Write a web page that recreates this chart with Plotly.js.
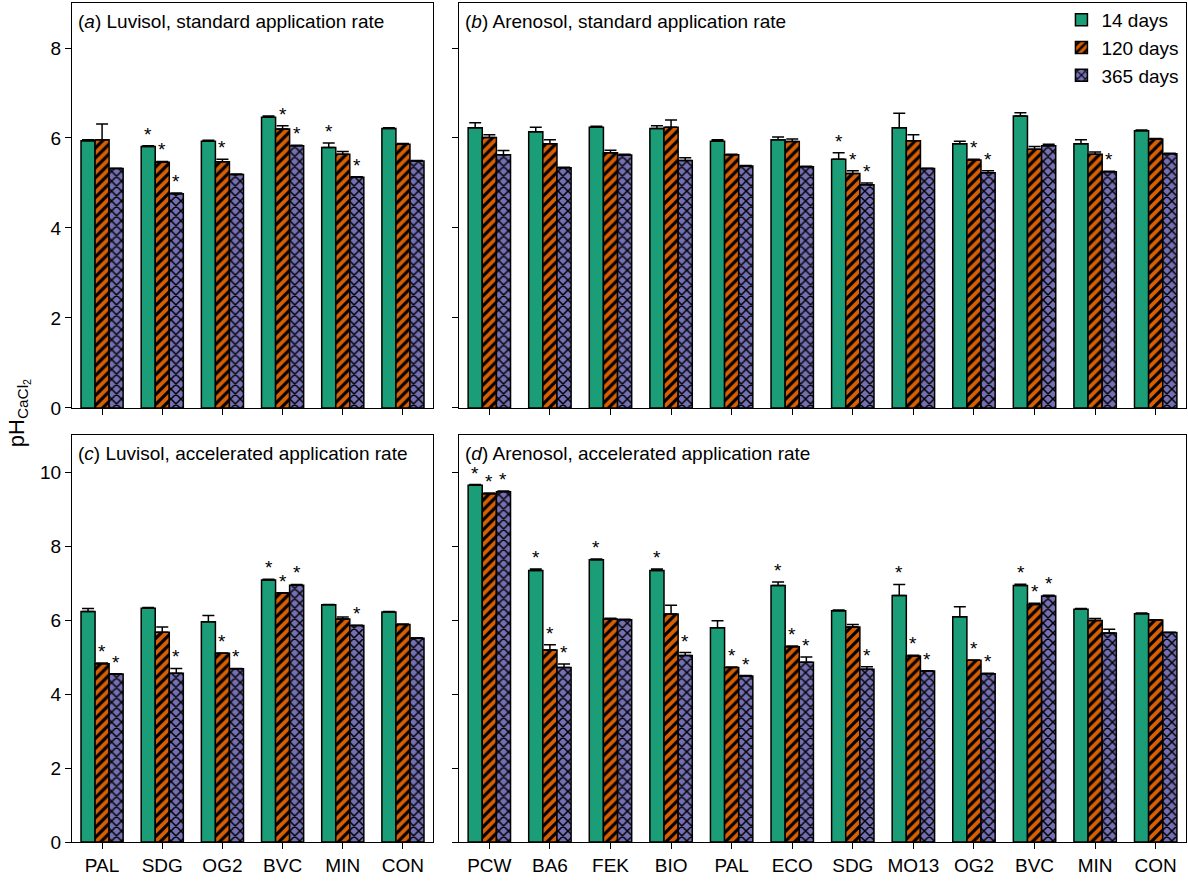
<!DOCTYPE html>
<html>
<head>
<meta charset="utf-8">
<script src="https://cdn.plot.ly/plotly-3.0.1.min.js"></script>
<style>
  body { margin: 0; background: #fff; }
  #plot { width: 1188px; height: 884px; }
</style>
</head>
<body>
<div id="plot"></div>
<script>
// Sites
const luvisolSites = ['PAL', 'SDG', 'OG2', 'BVC', 'MIN', 'CON'];
const arenosolSites = ['PCW', 'BA6', 'FEK', 'BIO', 'PAL', 'ECO', 'SDG', 'MO13', 'OG2', 'BVC', 'MIN', 'CON'];

const seriesNames = ['14 days', '120 days', '365 days'];

// (a) Luvisol, standard rate
const aMean14 = [5.94, 5.81, 5.93, 6.46, 5.79, 6.21];
const aMean120 = [5.96, 5.46, 5.47, 6.20, 5.64, 5.86];
const aMean365 = [5.32, 4.76, 5.19, 5.83, 5.13, 5.49];
const aErr14 = [0.02, 0.02, 0.02, 0.03, 0.10, 0.02];
const aErr120 = [0.35, 0.02, 0.06, 0.07, 0.06, 0.02];
const aErr365 = [0.01, 0.02, 0.01, 0.01, 0.01, 0.01];
const aSig14 = [0, 1, 0, 0, 1, 0];
const aSig120 = [0, 1, 1, 1, 0, 0];
const aSig365 = [0, 1, 0, 1, 1, 0];

// (b) Arenosol, standard rate
const bMean14 = [6.23, 6.14, 6.24, 6.21, 5.93, 5.96, 5.53, 6.23, 5.87, 6.49, 5.87, 6.16];
const bMean120 = [6.01, 5.87, 5.67, 6.24, 5.63, 5.92, 5.21, 5.94, 5.51, 5.75, 5.64, 5.98];
const bMean365 = [5.63, 5.34, 5.62, 5.50, 5.38, 5.36, 4.96, 5.32, 5.23, 5.83, 5.25, 5.65];
const bErr14 = [0.11, 0.10, 0.02, 0.06, 0.03, 0.06, 0.14, 0.32, 0.06, 0.07, 0.09, 0.02];
const bErr120 = [0.06, 0.09, 0.06, 0.16, 0.01, 0.06, 0.06, 0.13, 0.02, 0.06, 0.05, 0.01];
const bErr365 = [0.09, 0.01, 0.02, 0.06, 0.01, 0.01, 0.04, 0.01, 0.04, 0.03, 0.01, 0.01];
const bSig14 = [0, 0, 0, 0, 0, 0, 1, 0, 0, 0, 0, 0];
const bSig120 = [0, 0, 0, 0, 0, 0, 1, 0, 1, 0, 0, 0];
const bSig365 = [0, 0, 0, 0, 0, 0, 1, 0, 1, 0, 1, 0];

// (c) Luvisol, accelerated rate
const cMean14 = [6.23, 6.32, 5.95, 7.08, 6.41, 6.22];
const cMean120 = [4.82, 5.67, 5.10, 6.73, 6.03, 5.88];
const cMean365 = [4.54, 4.56, 4.68, 6.94, 5.85, 5.51];
const cErr14 = [0.08, 0.02, 0.17, 0.02, 0.01, 0.01];
const cErr120 = [0.02, 0.14, 0.01, 0.01, 0.05, 0.01];
const cErr365 = [0.01, 0.13, 0.01, 0.02, 0.01, 0.01];
const cSig14 = [0, 0, 0, 1, 0, 0];
const cSig120 = [1, 0, 1, 1, 0, 0];
const cSig365 = [1, 1, 1, 1, 1, 0];

// (d) Arenosol, accelerated rate
const dMean14 = [9.64, 7.34, 7.63, 7.34, 5.79, 6.93, 6.25, 6.66, 6.09, 6.93, 6.29, 6.17];
const dMean120 = [9.41, 5.19, 6.03, 6.16, 4.72, 5.28, 5.81, 5.03, 4.91, 6.42, 5.99, 6.00];
const dMean365 = [9.47, 4.72, 6.01, 5.04, 4.49, 4.86, 4.67, 4.62, 4.55, 6.65, 5.65, 5.66];
const dErr14 = [0.02, 0.04, 0.02, 0.04, 0.19, 0.10, 0.02, 0.30, 0.27, 0.04, 0.02, 0.02];
const dErr120 = [0.02, 0.14, 0.02, 0.24, 0.01, 0.02, 0.07, 0.02, 0.01, 0.03, 0.05, 0.01];
const dErr365 = [0.02, 0.09, 0.01, 0.08, 0.01, 0.14, 0.07, 0.01, 0.01, 0.02, 0.10, 0.01];
const dSig14 = [1, 1, 1, 1, 0, 1, 0, 1, 0, 1, 0, 0];
const dSig120 = [1, 1, 0, 0, 1, 1, 0, 1, 1, 1, 0, 0];
const dSig365 = [1, 1, 0, 1, 1, 1, 1, 1, 1, 1, 0, 0];

const colors = ['#1b9e77', '#d95f02', '#7570b3'];
const shapes = ['', '/', 'x'];
const solidity = [0.3, 0.45, 0.38];
const fontFamily = 'Liberation Sans, Arial, sans-serif';

let traces = [];
let annotations = [];

// Build the three grouped bar series of one panel, plus its significance stars
function addPanel(axisId, sites, means, errs, sigs, showLegend) {
    for (let s = 0; s < 3; s++) {
        traces.push({
            type: 'bar',
            name: seriesNames[s],
            showlegend: showLegend,
            x: sites,
            y: means[s],
            xaxis: 'x' + axisId,
            yaxis: 'y' + axisId,
            marker: {
                color: colors[s],
                line: { color: '#000', width: 1.5 },
                pattern: {
                    shape: shapes[s], fillmode: 'replace',
                    bgcolor: colors[s], fgcolor: '#000',
                    size: 7, solidity: solidity[s]
                }
            },
            error_y: {
                type: 'data',
                symmetric: false,
                array: errs[s],
                arrayminus: errs[s].map(() => 0),
                color: '#000',
                thickness: 1.5,
                width: 6
            }
        });

        sigs[s].forEach((flag, i) => {
            if (!flag) return;
            annotations.push({
                xref: 'x' + axisId, yref: 'y' + axisId,
                x: sites[i], y: means[s][i] + errs[s][i],
                xshift: (s - 1) * 14, yshift: -1,
                yanchor: 'bottom',
                text: '*', showarrow: false,
                font: { family: fontFamily, size: 19, color: '#000' }
            });
        });
    }
}

addPanel('', luvisolSites, [aMean14, aMean120, aMean365], [aErr14, aErr120, aErr365], [aSig14, aSig120, aSig365], true);
addPanel('2', arenosolSites, [bMean14, bMean120, bMean365], [bErr14, bErr120, bErr365], [bSig14, bSig120, bSig365], false);
addPanel('3', luvisolSites, [cMean14, cMean120, cMean365], [cErr14, cErr120, cErr365], [cSig14, cSig120, cSig365], false);
addPanel('4', arenosolSites, [dMean14, dMean120, dMean365], [dErr14, dErr120, dErr365], [dSig14, dSig120, dSig365], false);

// Panel captions
const captions = [
    ['x domain', 'y domain', '(<i>a</i>) Luvisol, standard application rate', 0.012],
    ['x2 domain', 'y2 domain', '(<i>b</i>) Arenosol, standard application rate', 0.006],
    ['x3 domain', 'y3 domain', '(<i>c</i>) Luvisol, accelerated application rate', 0.012],
    ['x4 domain', 'y4 domain', '(<i>d</i>) Arenosol, accelerated application rate', 0.006]
];
captions.forEach(c => {
    annotations.push({
        xref: c[0], yref: c[1], x: c[3], y: 0.955,
        xanchor: 'left', yanchor: 'middle',
        text: c[2], showarrow: false,
        font: { family: fontFamily, size: 19, color: '#000' }
    });
});

// Shared y title
annotations.push({
    xref: 'paper', yref: 'paper', x: 0.0155, y: 0.533,
    xanchor: 'center', yanchor: 'middle', textangle: -90,
    text: 'pH<sub>CaCl<sub>2</sub></sub>', showarrow: false,
    font: { family: fontFamily, size: 22, color: '#000' }
});

function xAxis(domain, anchor, showLabels) {
    return {
        domain: domain, anchor: anchor, type: 'category',
        showline: true, mirror: true, linecolor: '#000', linewidth: 1,
        ticks: 'outside', ticklen: 6, tickcolor: '#000',
        showgrid: false, zeroline: false,
        showticklabels: showLabels,
        tickfont: { family: fontFamily, size: 19, color: '#000' }
    };
}

function yAxis(domain, anchor, range, dtick, showLabels) {
    return {
        domain: domain, anchor: anchor, range: range,
        tickmode: 'linear', tick0: 0, dtick: dtick,
        showline: true, mirror: true, linecolor: '#000', linewidth: 1,
        ticks: 'outside', ticklen: 6, tickcolor: '#000',
        showgrid: false, zeroline: false,
        showticklabels: showLabels,
        tickfont: { family: fontFamily, size: 19, color: '#000' }
    };
}

const leftDom = [0.0606, 0.3645];
const rightDom = [0.3864, 0.9983];
const topDom = [0.5385, 0.9966];
const botDom = [0.0475, 0.5079];

const layout = {
    width: 1188, height: 884,
    margin: { l: 0, r: 0, t: 0, b: 0 },
    paper_bgcolor: '#fff', plot_bgcolor: '#fff',
    barmode: 'group', bargap: 0.3, bargroupgap: 0,
    font: { family: fontFamily, size: 19, color: '#000' },
    xaxis: xAxis(leftDom, 'y', false),
    yaxis: yAxis(topDom, 'x', [0, 9], 2, true),
    xaxis2: xAxis(rightDom, 'y2', false),
    yaxis2: yAxis(topDom, 'x2', [0, 9], 2, false),
    xaxis3: xAxis(leftDom, 'y3', true),
    yaxis3: yAxis(botDom, 'x3', [0, 11], 2, true),
    xaxis4: xAxis(rightDom, 'y4', true),
    yaxis4: yAxis(botDom, 'x4', [0, 11], 2, false),
    legend: {
        x: 0.997, xanchor: 'right', y: 0.999, yanchor: 'top',
        bgcolor: 'rgba(0,0,0,0)', tracegroupgap: 0, itemwidth: 30,
        font: { family: fontFamily, size: 19, color: '#000' }
    },
    annotations: annotations
};

Plotly.newPlot('plot', traces, layout, { displayModeBar: false, staticPlot: true });
</script>
</body>
</html>
